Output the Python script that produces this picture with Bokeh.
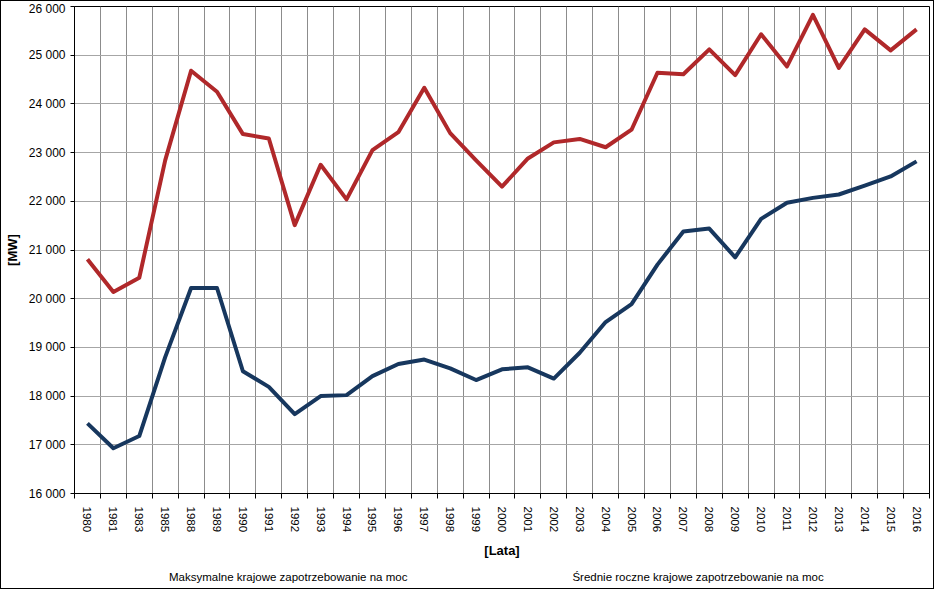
from bokeh.plotting import figure
from bokeh.layouts import column
from bokeh.models import FixedTicker, Range1d, Legend, LegendItem, ColumnDataSource
from bokeh.embed import file_html
from bokeh.resources import INLINE

years = ["1980", "1981", "1983", "1985", "1988", "1989", "1990", "1991", "1992", "1993",
         "1994", "1995", "1996", "1997", "1998", "1999", "2000", "2001", "2002", "2003",
         "2004", "2005", "2006", "2007", "2008", "2009", "2010", "2011", "2012", "2013",
         "2014", "2015", "2016"]
max_demand = [20810, 20140, 20430, 22840, 24680, 24250, 23380, 23290, 21510, 22750,
              22040, 23050, 23420, 24330, 23400, 22840, 22300, 22880, 23210, 23280,
              23110, 23470, 24640, 24610, 25120, 24590, 25430, 24770, 25830, 24740,
              25530, 25100, 25530]
avg_demand = [17440, 16930, 17180, 18800, 20220, 20220, 18510, 18190, 17630, 18000,
              18020, 18410, 18660, 18750, 18570, 18330, 18550, 18590, 18360, 18890,
              19520, 19890, 20700, 21380, 21440, 20850, 21640, 21970, 22070, 22140,
              22320, 22510, 22820]
y_ticks = [16000, 17000, 18000, 19000, 20000, 21000, 22000, 23000, 24000, 25000, 26000]
label_max = "Maksymalne krajowe zapotrzebowanie na moc"
label_avg = "Średnie roczne krajowe zapotrzebowanie na moc"

n = len(years)
xs = [i + 0.5 for i in range(n)]
source = ColumnDataSource(dict(x=xs, max=max_demand, avg=avg_demand))

FONT = "Liberation Sans"
RED = "#B0282A"
NAVY = "#17375E"

p = figure(width=932, height=560, output_backend="svg", toolbar_location=None,
           x_range=Range1d(0, n), y_range=Range1d(y_ticks[0], y_ticks[-1]),
           min_border_left=62, min_border_right=4, min_border_top=5, min_border_bottom=60)
p.background_fill_color = "white"
p.border_fill_color = "white"
p.outline_line_color = "black"
p.outline_line_width = 1

p.line("x", "max", source=source, line_color=RED, line_width=4, line_join="round")
p.line("x", "avg", source=source, line_color=NAVY, line_width=4, line_join="round")

# x axis: labels at category centres, tick marks / grid at boundaries
xt = FixedTicker(ticks=xs, minor_ticks=list(range(n + 1)))
p.xaxis.ticker = xt
p.xaxis.major_label_overrides = {x: y for x, y in zip(xs, years)}
p.xaxis.major_label_orientation = "vertical"
p.xaxis.major_tick_line_color = None
p.xaxis.major_tick_out = 0
p.xaxis.major_tick_in = 0
p.xaxis.minor_tick_line_color = "black"
p.xaxis.minor_tick_out = 5
p.xaxis.minor_tick_in = 0
p.xaxis.major_label_standoff = 8
p.xaxis.major_label_text_font = FONT
p.xaxis.major_label_text_font_size = "11.5px"
p.xaxis.major_label_text_color = "black"
p.xaxis.axis_label = "[Lata]"
p.xaxis.axis_label_text_font = FONT
p.xaxis.axis_label_text_font_style = "bold"
p.xaxis.axis_label_text_font_size = "13px"
p.xaxis.axis_label_text_color = "black"
p.xaxis.axis_label_standoff = 8
p.xaxis.axis_line_color = "black"

p.xgrid.ticker = FixedTicker(ticks=list(range(n + 1)))
p.xgrid.grid_line_color = "#8c8c8c"
p.xgrid.grid_line_width = 1

# y axis
p.yaxis.ticker = FixedTicker(ticks=y_ticks, minor_ticks=[])
p.yaxis.major_label_overrides = {v: f"{v:,}".replace(",", " ") for v in y_ticks}
p.yaxis.major_tick_out = 4
p.yaxis.major_tick_in = 0
p.yaxis.minor_tick_line_color = None
p.yaxis.major_label_standoff = 5
p.yaxis.major_label_text_font = FONT
p.yaxis.major_label_text_font_size = "12px"
p.yaxis.major_label_text_color = "black"
p.yaxis.axis_label = "[MW]"
p.yaxis.axis_label_text_font = FONT
p.yaxis.axis_label_text_font_style = "bold"
p.yaxis.axis_label_text_font_size = "13px"
p.yaxis.axis_label_text_color = "black"
p.yaxis.axis_label_standoff = 6
p.yaxis.axis_line_color = "black"
p.ygrid.grid_line_color = "#a6a6a6"
p.ygrid.grid_line_width = 1

# legend strip below the chart
p2 = figure(width=932, height=27, output_backend="svg", toolbar_location=None,
            x_range=Range1d(0, 1), y_range=Range1d(0, 1),
            x_axis_type=None, y_axis_type=None,
            min_border_left=62, min_border_right=4, min_border_top=0, min_border_bottom=0)
p2.outline_line_color = None
p2.grid.visible = False
p2.background_fill_color = "white"
p2.border_fill_color = "white"
empty = ColumnDataSource(dict(x=[], y=[]))
g1 = p2.line("x", "y", source=empty, line_color=RED, line_width=4)
g2 = p2.line("x", "y", source=empty, line_color=NAVY, line_width=4)

legend = Legend(items=[LegendItem(label=label_max, renderers=[g1]),
                       LegendItem(label=label_avg, renderers=[g2])],
                orientation="horizontal", location=(66, 5),
                spacing=136, padding=0, margin=0,
                glyph_width=28, glyph_height=12, label_standoff=1,
                label_text_font=FONT, label_text_font_size="11.5px",
                label_text_color="black",
                border_line_color=None, background_fill_alpha=0)
p2.add_layout(legend, "center")

layout = column(p, p2, spacing=0, styles={"border": "1px solid black"})

open("out.html", "w").write(file_html(layout, INLINE))
